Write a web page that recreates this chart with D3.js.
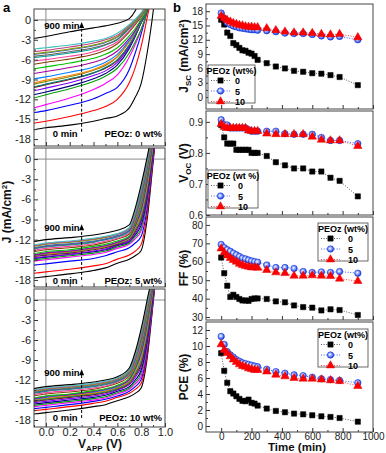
<!DOCTYPE html>
<html>
<head>
<meta charset="utf-8">
<script src="https://cdn.jsdelivr.net/npm/d3@7/dist/d3.min.js"></script>
<style>
  body { margin: 0; background: #fff; }
  svg { display: block; font-family: Arial, "Liberation Sans", sans-serif; }
  .tick text { font-size: 11px; fill: #1a1a1a; }
  .tick line { stroke: #333; }
  .pb .tick text { font-size: 10px; }
</style>
</head>
<body>
<svg id="fig" width="386" height="453"></svg>
<script>
// ---- panel b data (time in min) ----
var times = [0, 20, 40, 60, 80, 100, 120, 140, 160, 180, 200, 220, 240, 300, 360, 420, 480, 540, 600, 660, 720, 780, 900];
var peozLabels = ['0', '5', '10'];

var jsc0  = [16.2, 15.2, 13.5, 12.8, 11.3, 10.9, 10.3, 9.8, 9.7, 9.3, 9.1, 8.6, 7.8, 7.1, 6.4, 6.0, 5.5, 5.3, 5.0, 4.9, 4.6, 4.2, 2.5];
var jsc5  = [17.6, 16.5, 15.6, 15.2, 14.9, 14.7, 14.5, 14.4, 14.3, 14.2, 14.1, 14.1, 14.0, 13.9, 13.7, 13.4, 13.3, 13.3, 13.1, 12.8, 12.6, 12.7, 12.0];
var jsc10 = [17.0, 16.5, 16.1, 15.8, 15.5, 15.3, 15.1, 15.0, 14.8, 14.7, 14.7, 14.6, 14.6, 14.4, 14.0, 13.7, 13.5, 13.5, 13.4, 13.2, 13.1, 13.2, 12.5];

var voc0  = [0.89, 0.85, 0.83, 0.83, 0.83, 0.81, 0.81, 0.81, 0.81, 0.81, 0.80, 0.80, 0.80, 0.79, 0.77, 0.76, 0.75, 0.75, 0.74, 0.74, 0.72, 0.71, 0.66];
var voc5  = [0.907, 0.891, 0.89, 0.88, 0.88, 0.88, 0.88, 0.88, 0.88, 0.875, 0.87, 0.87, 0.87, 0.87, 0.87, 0.862, 0.86, 0.86, 0.86, 0.85, 0.84, 0.84, 0.83];
var voc10 = [0.893, 0.883, 0.88, 0.88, 0.88, 0.88, 0.88, 0.88, 0.88, 0.872, 0.87, 0.87, 0.87, 0.862, 0.86, 0.86, 0.86, 0.86, 0.852, 0.842, 0.84, 0.84, 0.822];

var ff0  = [62.3, 53.8, 47.0, 40.9, 42.1, 40.9, 39.8, 39.0, 39.0, 38.8, 39.8, 40.1, 40.1, 39.8, 38.5, 38.0, 36.3, 35.4, 35.1, 33.6, 34.2, 33.8, 31.1];
var ff5  = [69.4, 67.7, 66.6, 65.7, 64.7, 63.8, 62.9, 62.0, 61.6, 61.0, 60.5, 60.1, 59.8, 58.3, 56.9, 56.9, 56.4, 54.7, 54.2, 54.5, 54.2, 54.7, 53.8];
var ff10 = [67.2, 65.0, 63.4, 62.0, 60.9, 60.0, 58.9, 58.2, 57.6, 57.3, 56.9, 56.9, 56.7, 55.5, 54.2, 53.8, 52.4, 52.4, 52.6, 52.4, 52.2, 50.8, 49.5];

var pce0  = [9.1, 6.9, 5.4, 4.35, 4.06, 3.72, 3.39, 3.14, 3.1, 3.3, 2.9, 2.8, 2.55, 2.18, 1.88, 1.72, 1.55, 1.46, 1.34, 1.21, 1.13, 1.0, 0.54];
var pce5  = [11.2, 10.2, 9.3, 8.9, 8.6, 8.3, 8.1, 7.9, 7.8, 7.7, 7.6, 7.5, 7.4, 7.1, 6.8, 6.6, 6.4, 6.3, 6.1, 5.9, 5.8, 5.7, 5.4];
var pce10 = [10.2, 9.5, 9.1, 8.7, 8.3, 8.0, 7.7, 7.5, 7.4, 7.2, 7.1, 7.0, 7.0, 6.8, 6.4, 6.2, 6.0, 5.9, 5.9, 5.8, 5.7, 5.6, 5.0];

// ---- panel a data: J (mA/cm2) at each applied voltage, one row per scan (0 ... 900 min) ----
var vApp = [-0.1, 0, 0.2, 0.4, 0.5, 0.6, 0.7, 0.75, 0.8, 0.85, 0.9, 0.95];

var jv0 = [
  [-16.6, -16.3, -15.9, -15.3, -14.9, -14.5, -13.3, -11.7, -9.6, -5.0, 1.2, 10],
  [-15.6, -15.3, -14.6, -13.7, -13.1, -12.0, -9.5, -7.2, -4.0, 0.3, 5, 12],
  [-14.0, -13.7, -12.9, -11.9, -11.1, -10.2, -7.5, -5.0, -2.1, 1.4, 6, 12],
  [-13.3, -12.8, -11.8, -10.5, -9.6, -8.3, -5.6, -3.7, -1.5, 1.3, 5, 10],
  [-11.8, -11.3, -10.4, -9.3, -8.5, -7.3, -5.0, -3.3, -1.4, 1.2, 5, 10],
  [-11.3, -10.9, -10.0, -8.9, -8.1, -6.8, -4.3, -2.5, -0.4, 1.5, 5, 10],
  [-10.7, -10.3, -9.5, -8.4, -7.7, -6.4, -4.0, -2.4, -0.4, 1.5, 5, 10],
  [-10.2, -9.8, -9.0, -8.0, -7.3, -6.1, -3.8, -2.3, -0.4, 1.5, 5, 10],
  [-10.1, -9.7, -8.9, -8.0, -7.2, -6.0, -3.8, -2.2, -0.4, 1.5, 5, 10],
  [-9.7, -9.3, -8.6, -7.6, -6.9, -5.6, -3.3, -1.9, 0.0, 1.6, 5, 10],
  [-9.5, -9.1, -8.4, -7.5, -6.7, -5.5, -3.3, -1.8, 0.0, 1.6, 5, 10],
  [-8.9, -8.6, -7.9, -7.1, -6.4, -5.2, -3.1, -1.7, 0.0, 1.6, 5, 10],
  [-8.1, -7.8, -7.2, -6.4, -5.8, -4.7, -2.8, -1.6, 0.0, 1.6, 5, 10],
  [-7.4, -7.1, -6.5, -5.8, -5.2, -4.2, -2.4, -1.3, 0.1, 1.7, 5, 10],
  [-6.7, -6.4, -5.9, -5.2, -4.6, -3.6, -1.8, -0.7, 0.5, 2.0, 5, 10],
  [-6.2, -6.0, -5.5, -4.8, -4.2, -3.3, -1.6, -0.5, 0.6, 2.0, 5, 10],
  [-5.7, -5.5, -5.0, -4.4, -3.8, -3.0, -1.3, -0.3, 0.7, 2.1, 5, 10],
  [-5.5, -5.3, -4.8, -4.2, -3.7, -2.9, -1.2, -0.3, 0.7, 2.1, 5, 10],
  [-5.2, -5.0, -4.5, -3.9, -3.4, -2.6, -1.1, -0.2, 0.8, 2.2, 5, 10],
  [-5.1, -4.9, -4.4, -3.8, -3.3, -2.5, -1.0, -0.2, 0.8, 2.2, 5, 10],
  [-4.8, -4.6, -4.1, -3.5, -3.0, -2.3, -0.8, 0.0, 1.0, 2.4, 5, 10],
  [-4.4, -4.2, -3.8, -3.2, -2.8, -2.0, -0.7, 0.1, 1.1, 2.5, 5, 10],
  [-2.8, -2.5, -1.8, -1.2, -0.9, -0.5, 0.2, 1.4, 3.5, 7, 12, 16]
];

var jv5 = [
  [-17.7, -17.5, -17.1, -16.6, -16.2, -15.5, -14.9, -14.4, -13.6, -9.0, -0.5, 8],
  [-17.0, -16.8, -16.4, -15.9, -15.6, -14.9, -14.3, -13.7, -12.7, -8.2, -0.2, 8],
  [-15.8, -15.6, -15.2, -14.8, -14.4, -13.8, -13.2, -12.5, -11.5, -7.3, 0.2, 9],
  [-15.2, -15.0, -14.6, -14.2, -13.9, -13.3, -12.7, -11.9, -10.7, -6.6, 0.5, 9],
  [-15.0, -14.8, -14.4, -14.0, -13.7, -13.1, -12.5, -11.6, -10.3, -6.2, 0.8, 9],
  [-14.8, -14.6, -14.2, -13.8, -13.5, -12.9, -12.3, -11.3, -9.8, -5.7, 1.1, 10],
  [-14.7, -14.5, -14.2, -13.7, -13.4, -12.8, -12.2, -11.1, -9.4, -5.3, 1.3, 10],
  [-14.5, -14.3, -14.0, -13.5, -13.2, -12.7, -12.0, -10.8, -9.0, -4.9, 1.6, 10],
  [-14.4, -14.2, -13.9, -13.4, -13.1, -12.6, -11.9, -10.6, -8.7, -4.5, 1.9, 10],
  [-14.3, -14.1, -13.8, -13.3, -13.0, -12.5, -11.8, -10.4, -8.3, -4.1, 2.2, 10],
  [-14.3, -14.1, -13.8, -13.3, -13.0, -12.5, -11.8, -10.2, -8.0, -3.8, 2.5, 10],
  [-14.3, -14.0, -13.7, -13.2, -12.9, -12.4, -11.7, -10.0, -7.7, -3.4, 2.7, 10],
  [-14.3, -14.0, -13.7, -13.2, -12.9, -12.4, -11.6, -9.9, -7.4, -3.1, 3.0, 10],
  [-14.1, -13.8, -13.5, -13.0, -12.7, -12.2, -11.5, -9.6, -7.0, -2.7, 3.2, 10],
  [-13.8, -13.5, -13.2, -12.8, -12.4, -11.9, -11.2, -9.3, -6.5, -2.3, 3.4, 10],
  [-13.6, -13.3, -13.0, -12.6, -12.2, -11.8, -11.0, -9.0, -6.2, -1.9, 3.7, 10],
  [-13.4, -13.1, -12.8, -12.4, -12.0, -11.6, -10.8, -8.7, -5.8, -1.6, 3.9, 10],
  [-13.3, -13.0, -12.7, -12.3, -11.9, -11.5, -10.7, -8.5, -5.5, -1.3, 4.0, 10],
  [-13.2, -12.9, -12.6, -12.2, -11.9, -11.4, -10.6, -8.3, -5.2, -0.9, 4.2, 10],
  [-13.0, -12.7, -12.4, -12.0, -11.7, -11.2, -10.4, -8.1, -4.8, -0.6, 4.5, 10],
  [-12.9, -12.6, -12.3, -11.9, -11.6, -11.2, -10.3, -7.9, -4.5, -0.3, 4.7, 11],
  [-12.8, -12.5, -12.2, -11.8, -11.5, -11.1, -10.2, -7.7, -4.2, 0.0, 4.9, 11],
  [-12.3, -12.0, -11.7, -11.3, -11.0, -10.6, -9.8, -7.3, -3.8, 0.3, 5, 12]
];

var jv10 = [
  [-17.1, -16.9, -16.5, -16.0, -15.7, -15.1, -14.5, -14.0, -13.2, -8.8, -0.5, 8],
  [-16.6, -16.4, -16.0, -15.5, -15.2, -14.6, -14.0, -13.4, -12.5, -8.2, -0.2, 8],
  [-16.3, -16.1, -15.7, -15.2, -14.9, -14.4, -13.7, -13.0, -11.9, -7.6, 0.1, 9],
  [-16.0, -15.8, -15.4, -15.0, -14.7, -14.1, -13.4, -12.6, -11.4, -7.1, 0.3, 9],
  [-15.8, -15.6, -15.2, -14.8, -14.5, -13.9, -13.2, -12.3, -10.9, -6.6, 0.6, 9],
  [-15.6, -15.4, -15.0, -14.6, -14.3, -13.7, -13.0, -12.0, -10.5, -6.2, 0.8, 10],
  [-15.4, -15.2, -14.8, -14.4, -14.1, -13.5, -12.7, -11.6, -10.0, -5.8, 1.1, 10],
  [-15.2, -15.0, -14.6, -14.2, -13.9, -13.4, -12.5, -11.3, -9.6, -5.3, 1.4, 10],
  [-15.1, -14.9, -14.5, -14.1, -13.8, -13.3, -12.4, -11.1, -9.2, -4.9, 1.6, 10],
  [-15.0, -14.8, -14.4, -14.0, -13.7, -13.2, -12.3, -10.9, -8.8, -4.6, 1.8, 10],
  [-15.0, -14.7, -14.3, -13.9, -13.6, -13.1, -12.1, -10.6, -8.5, -4.2, 2.1, 10],
  [-14.9, -14.6, -14.2, -13.8, -13.5, -13.0, -12.0, -10.4, -8.1, -3.8, 2.3, 10],
  [-14.8, -14.5, -14.2, -13.7, -13.4, -12.9, -11.9, -10.2, -7.8, -3.4, 2.5, 10],
  [-14.7, -14.4, -14.1, -13.6, -13.3, -12.8, -11.7, -10.0, -7.4, -3.1, 2.8, 10],
  [-14.4, -14.1, -13.8, -13.4, -13.0, -12.5, -11.4, -9.6, -7.0, -2.7, 2.9, 10],
  [-14.2, -13.9, -13.6, -13.2, -12.9, -12.3, -11.2, -9.4, -6.6, -2.3, 3.1, 10],
  [-14.0, -13.7, -13.4, -13.0, -12.7, -12.2, -11.0, -9.1, -6.2, -1.9, 3.3, 10],
  [-13.9, -13.6, -13.3, -12.9, -12.6, -12.1, -10.9, -8.9, -5.9, -1.6, 3.5, 10],
  [-13.8, -13.5, -13.2, -12.8, -12.5, -12.0, -10.8, -8.7, -5.6, -1.3, 3.7, 10],
  [-13.7, -13.4, -13.1, -12.7, -12.4, -11.9, -10.7, -8.5, -5.3, -1.0, 3.9, 11],
  [-13.6, -13.3, -13.0, -12.6, -12.3, -11.8, -10.5, -8.3, -4.9, -0.6, 4.1, 11],
  [-13.5, -13.2, -12.9, -12.5, -12.2, -11.7, -10.4, -8.1, -4.6, -0.3, 4.3, 11],
  [-13.3, -13.0, -12.7, -12.3, -12.0, -11.5, -10.2, -7.8, -4.3, 0.0, 4.5, 12]
];

var curveColors = ['#000000', '#ff0000', '#0000ff', '#ff00ff', '#00a000', '#000080', '#8000ff', '#800000',
  '#008080', '#808000', '#ff8000', '#0080ff', '#a000a0', '#00c000', '#804000', '#ff40a0',
  '#00a0a0', '#606060', '#4060c0', '#80a000', '#c04080', '#40c0c0', '#000000'];

(function(){
  'use strict';
  var svg = d3.select('#fig');
  var defs = svg.append('defs');

  // shaded ball for the 5 wt% markers
  var ball = defs.append('radialGradient').attr('id', 'ball')
    .attr('cx', '42%').attr('cy', '42%').attr('r', '58%');
  ball.append('stop').attr('offset', '0%').attr('stop-color', '#ffffff');
  ball.append('stop').attr('offset', '40%').attr('stop-color', '#9db4ff');
  ball.append('stop').attr('offset', '100%').attr('stop-color', '#1434e6');

  function rotTitle(x, y, parts){
    var t = svg.append('text')
      .attr('transform', 'translate(' + x + ',' + y + ') rotate(-90)')
      .attr('text-anchor', 'middle').attr('font-weight', 'bold').attr('font-size', 12).attr('fill', '#111');
    parts.forEach(function(p){
      var s = t.append('tspan').text(p[0]);
      if(p[1]) s.attr('font-size', p[1]);
      if(p[2]) s.attr('dy', p[2]);
    });
  }

  function frame(x0, y0, x1, y1){
    svg.append('rect').attr('x', x0).attr('y', y0).attr('width', x1 - x0).attr('height', y1 - y0)
      .attr('fill', 'none').attr('stroke', '#444').attr('stroke-width', 1);
  }

  // ================= panel a =================
  var jvX = d3.scaleLinear().domain([-0.1, 1.0]).range([34, 165]);
  var jvLine = d3.line()
    .x(function(d, i){ return jvX(vApp[i]); })
    .curve(d3.curveMonotoneX);

  function drawJV(curves, spec){
    var y = d3.scaleLinear().domain([-19.05, 1.65]).range([spec.y1, spec.y0]);
    var x0 = jvX.range()[0], x1 = jvX.range()[1];
    defs.append('clipPath').attr('id', 'clip' + spec.id).append('rect')
      .attr('x', x0).attr('y', spec.y0).attr('width', x1 - x0).attr('height', spec.y1 - spec.y0);
    var inner = svg.append('g').attr('clip-path', 'url(#clip' + spec.id + ')');
    inner.append('line').attr('x1', jvX(0)).attr('x2', jvX(0)).attr('y1', spec.y0).attr('y2', spec.y1)
      .attr('stroke', '#8a8a8a').attr('stroke-width', 1);
    inner.append('line').attr('x1', x0).attr('x2', x1).attr('y1', y(0)).attr('y2', y(0))
      .attr('stroke', '#8a8a8a').attr('stroke-width', 1);
    jvLine.y(function(d){ return y(d); });
    inner.selectAll('path.jv').data(curves).enter().append('path')
      .attr('class', 'jv')
      .attr('d', jvLine)
      .attr('fill', 'none')
      .attr('stroke', function(d, i){ return curveColors[i]; })
      .attr('stroke-width', 1.1);

    // axes (ticks point inward)
    svg.append('g').attr('transform', 'translate(' + x0 + ',0)')
      .call(d3.axisLeft(y).tickValues(d3.range(0, -19, -3)).tickSize(-4).tickPadding(3)
        .tickFormat(function(d){ return String(d); }))
      .call(function(g){ g.select('.domain').remove(); });
    svg.append('g').attr('transform', 'translate(' + x0 + ',0)')
      .call(d3.axisLeft(y).tickValues(d3.range(-1.5, -18, -3)).tickSize(-2).tickFormat(''))
      .call(function(g){ g.select('.domain').remove(); });
    svg.append('g').attr('transform', 'translate(0,' + spec.y1 + ')')
      .call(d3.axisBottom(jvX).tickValues([0, 0.2, 0.4, 0.6, 0.8, 1.0]).tickSize(-4).tickPadding(1)
        .tickFormat(spec.showX ? d3.format('.1f') : ''))
      .call(function(g){ g.select('.domain').remove(); });
    svg.append('g').attr('transform', 'translate(0,' + spec.y1 + ')')
      .call(d3.axisBottom(jvX).tickValues([-0.1, 0.1, 0.3, 0.5, 0.7, 0.9]).tickSize(-2).tickFormat(''))
      .call(function(g){ g.select('.domain').remove(); });
    frame(x0, spec.y0, x1, spec.y1);

    // time arrow
    var ax = jvX(0.3);
    svg.append('line').attr('x1', ax).attr('x2', ax)
      .attr('y1', y(spec.arrow[0])).attr('y2', y(spec.arrow[1]) + 4)
      .attr('stroke', '#000').attr('stroke-width', 1).attr('stroke-dasharray', '3,2');
    var ty = y(spec.arrow[1]);
    svg.append('path').attr('d', 'M' + ax + ',' + ty + 'l-2.5,6h5z').attr('fill', '#000');
    svg.append('text').attr('x', ax - 2).attr('y', ty + 7).attr('text-anchor', 'end')
      .attr('font-size', 9.5).attr('font-weight', 'bold').text('900 min');
    svg.append('text').attr('x', ax - 4).attr('y', spec.zeroY).attr('text-anchor', 'end')
      .attr('font-size', 9.5).attr('font-weight', 'bold').text('0 min');
    svg.append('text').attr('x', x1 - 3).attr('y', spec.zeroY).attr('text-anchor', 'end')
      .attr('font-size', 9.5).attr('font-weight', 'bold').text(spec.label);
  }

  drawJV(jv0,  {id: 'a0', y0: 9,   y1: 146, arrow: [-16.9, -0.3],  zeroY: 137, label: 'PEOz: 0 wt%',  showX: false});
  drawJV(jv5,  {id: 'a5', y0: 148, y1: 287, arrow: [-18.0, -9.7],  zeroY: 284, label: 'PEOz: 5 wt%',  showX: false});
  drawJV(jv10, {id: 'a10', y0: 289, y1: 427, arrow: [-17.7, -10.4], zeroY: 421, label: 'PEOz: 10 wt%', showX: true});

  rotTitle(11, 212, [['J (mA/cm'], ['2', 8, -4], [')', 12, 4]]);
  var vx = svg.append('text').attr('x', 100).attr('y', 448).attr('text-anchor', 'middle')
    .attr('font-weight', 'bold').attr('font-size', 12).attr('fill', '#111');
  vx.append('tspan').text('V');
  vx.append('tspan').text('APP').attr('font-size', 8).attr('dy', 3);
  vx.append('tspan').text(' (V)').attr('dy', -3);

  // ================= panel b =================
  var tX = d3.scaleLinear().domain([-100, 1000]).range([206, 373]);
  var seriesFill = ['#000000', 'url(#ball)', '#ff0000'];
  var seriesLine = ['#555555', '#3a5cff', '#ff3b3b'];
  var seriesStroke = ['#000000', '#1a3ad8', '#e00000'];

  function marker(sel, k){
    if(k === 1){
      sel.append('circle').attr('r', 3.2).attr('fill', seriesFill[k])
        .attr('stroke', seriesStroke[k]).attr('stroke-width', 0.6);
    } else {
      sel.append('path')
        .attr('d', d3.symbol().type(k === 0 ? d3.symbolSquare : d3.symbolTriangle).size(k === 0 ? 28 : 30))
        .attr('fill', seriesFill[k]).attr('stroke', seriesStroke[k]).attr('stroke-width', 0.5);
    }
  }

  var pb = svg.append('g').attr('class', 'pb');

  function drawMetric(series, spec){
    var y = d3.scaleLinear().domain(spec.domain).range([spec.y1, spec.y0]);
    var x0 = tX.range()[0], x1 = tX.range()[1];

    series.forEach(function(vals, k){
      var line = d3.line().x(function(d, i){ return tX(times[i]); }).y(function(d){ return y(d); });
      pb.append('path').attr('d', line(vals)).attr('fill', 'none')
        .attr('stroke', seriesLine[k]).attr('stroke-width', 1).attr('stroke-dasharray', '1,1.6');
    });
    series.forEach(function(vals, k){
      pb.append('g').selectAll('g').data(vals).enter().append('g')
        .attr('transform', function(d, i){ return 'translate(' + tX(times[i]) + ',' + y(d) + ')'; })
        .each(function(){ marker(d3.select(this), k); });
    });

    pb.append('g').attr('transform', 'translate(' + x0 + ',0)')
      .call(d3.axisLeft(y).tickValues(spec.ticks).tickSize(-4).tickPadding(3).tickFormat(spec.fmt))
      .call(function(g){ g.select('.domain').remove(); });
    pb.append('g').attr('transform', 'translate(' + x0 + ',0)')
      .call(d3.axisLeft(y).tickValues(spec.minor).tickSize(-2).tickFormat(''))
      .call(function(g){ g.select('.domain').remove(); });
    pb.append('g').attr('transform', 'translate(0,' + spec.y1 + ')')
      .call(d3.axisBottom(tX).tickValues(d3.range(0, 1001, 200)).tickSize(-4).tickPadding(1)
        .tickFormat(spec.showX ? d3.format('d') : ''))
      .call(function(g){ g.select('.domain').remove(); });
    pb.append('g').attr('transform', 'translate(0,' + spec.y1 + ')')
      .call(d3.axisBottom(tX).tickValues(d3.range(100, 1000, 200)).tickSize(-2).tickFormat(''))
      .call(function(g){ g.select('.domain').remove(); });
    frame(x0, spec.y0, x1, spec.y1);

    // legend
    var L = spec.legend;
    var lg = svg.append('g').attr('transform', 'translate(' + L.x + ',' + L.y + ')');
    lg.append('rect').attr('width', L.w).attr('height', 38).attr('fill', '#fff')
      .attr('stroke', '#444').attr('stroke-width', 0.8);
    lg.append('text').attr('x', L.w / 2).attr('y', 8.5).attr('text-anchor', 'middle')
      .attr('font-size', 9).attr('font-weight', 'bold').text(L.title);
    peozLabels.forEach(function(lab, k){
      var ry = 15.5 + k * 10.5;
      lg.append('line').attr('x1', 3).attr('x2', 22).attr('y1', ry).attr('y2', ry)
        .attr('stroke', seriesLine[k]).attr('stroke-width', 1).attr('stroke-dasharray', '1,1.6');
      marker(lg.append('g').attr('transform', 'translate(12.5,' + ry + ')'), k);
      lg.append('text').attr('x', L.w - 20).attr('y', ry + 3.5)
        .attr('font-size', 9).attr('font-weight', 'bold').text(lab);
    });
  }

  drawMetric([jsc0, jsc5, jsc10], {
    domain: [-2.5, 19.5], y0: 4, y1: 109,
    ticks: d3.range(0, 19, 3), minor: d3.range(1.5, 18, 3), fmt: d3.format('d'), showX: false,
    legend: {x: 208, y: 65, w: 47, title: 'PEOz (wt%)'}
  });
  drawMetric([voc0, voc5, voc10], {
    domain: [0.6, 0.935], y0: 111, y1: 215,
    ticks: [0.6, 0.7, 0.8, 0.9], minor: [0.65, 0.75, 0.85], fmt: d3.format('.1f'), showX: false,
    legend: {x: 208, y: 170, w: 50, title: 'PEOz (wt %)'}
  });
  drawMetric([ff0, ff5, ff10], {
    domain: [28.4, 84.3], y0: 217, y1: 320,
    ticks: d3.range(30, 81, 10), minor: d3.range(35, 80, 10), fmt: d3.format('d'), showX: false,
    legend: {x: 318, y: 223, w: 50, title: 'PEOz (wt%)'}
  });
  drawMetric([pce0, pce5, pce10], {
    domain: [-0.75, 13], y0: 322, y1: 432,
    ticks: d3.range(0, 13, 2), minor: d3.range(1, 12, 2), fmt: d3.format('d'), showX: true,
    legend: {x: 318, y: 329, w: 50, title: 'PEOz (wt%)'}
  });

  rotTitle(188, 56, [['J'], ['SC', 8, 3], [' (mA/cm', 12, -3], ['2', 8, -4], [')', 12, 4]]);
  rotTitle(188, 163, [['V'], ['OC', 8, 3], [' (V)', 12, -3]]);
  rotTitle(188, 268, [['FF (%)']]);
  rotTitle(188, 377, [['PCE (%)']]);
  svg.append('text').attr('x', 297).attr('y', 451).attr('text-anchor', 'middle')
    .attr('font-weight', 'bold').attr('font-size', 11.5).attr('fill', '#111').text('Time (min)');

  // panel letters
  svg.append('text').attr('x', 3).attr('y', 12).attr('font-weight', 'bold').attr('font-size', 13).text('a');
  svg.append('text').attr('x', 173).attr('y', 12).attr('font-weight', 'bold').attr('font-size', 13).text('b');
}());
</script>
</body>
</html>
